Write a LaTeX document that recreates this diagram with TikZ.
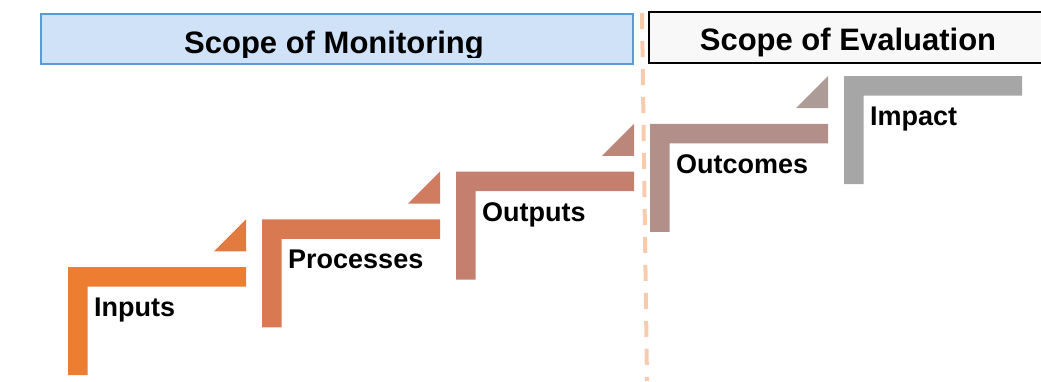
\documentclass[tikz,border=0pt]{standalone}
\usepackage{fontspec}
\setmainfont{Liberation Sans}
\definecolor{cIn}{HTML}{ED7D31}
\definecolor{cProc}{HTML}{D97951}
\definecolor{cOut}{HTML}{C47F6F}
\definecolor{cOutc}{HTML}{B28F88}
\definecolor{cImp}{HTML}{A6A6A6}
\definecolor{monFill}{HTML}{CFE2F8}
\definecolor{monLine}{HTML}{5B9BD5}
\definecolor{evalFill}{HTML}{F8F8F8}
\definecolor{divider}{HTML}{F8CBAD}
\tikzset{
  titlebox/.style={line width=1.5pt},
  titletext/.style={font=\fontsize{31}{36}\selectfont\bfseries, inner sep=0pt, anchor=base},
  steplabel/.style={font=\fontsize{27}{32}\selectfont\bfseries, inner sep=0pt, anchor=base west},
}
\begin{document}
\begin{tikzpicture}[x=1pt,y=-1pt]
\useasboundingbox (0,0) rectangle (1041,381);
\clip (0,0) rectangle (1041,381);

% divider between the two scopes
\coordinate (divtop) at (642,13);
\coordinate (divbot) at (647,381);
\draw[divider, line width=4pt, dash pattern=on 16pt off 12pt] (divtop) -- (divbot);

% scope headers
\node[titlebox, draw=monLine, fill=monFill, minimum width=592pt, minimum height=50pt, inner sep=0pt, anchor=north west] (monbox) at (40,13) {};
\node[titlebox, draw=black, line width=2pt, fill=evalFill, minimum width=400pt, minimum height=51pt, inner sep=0pt, anchor=north west] (evalbox) at (648,11) {};
\begin{scope}
  \clip (40,13) rectangle (632,57.5);
  \node[titletext] (montitle) at (334,53) {Scope of Monitoring};
\end{scope}
\node[titletext] (evaltitle) at (848,50) {Scope of Evaluation};

% staircase of L-shaped steps with connecting wedges
\def\thick{19.5}
\foreach \i/\col/\txt in {0/cIn/Inputs, 1/cProc/Processes, 2/cOut/Outputs, 3/cOutc/Outcomes, 4/cImp/Impact}{
  \pgfmathsetmacro{\L}{68+194*\i}
  \pgfmathsetmacro{\T}{267-47.75*\i}
  \pgfmathsetmacro{\R}{\L+178}
  \pgfmathsetmacro{\B}{\T+108}
  \fill[\col] (\L,\B) -- (\L,\T) -- (\R,\T) -- (\R,\T+\thick) -- (\L+\thick,\T+\thick) -- (\L+\thick,\B) -- cycle;
  \node[steplabel] (lab\i) at (\L+26,\T+49.5) {\txt};
}
\foreach \i/\ca/\cb in {0/cIn/cProc, 1/cProc/cOut, 2/cOut/cOutc, 3/cOutc/cImp}{
  \pgfmathsetmacro{\R}{246+194*\i}
  \pgfmathsetmacro{\N}{267-47.75*(\i+1)}
  \fill[\ca!50!\cb] (\R,\N) -- (\R,\N+32) -- (\R-32,\N+32) -- cycle;
}
\end{tikzpicture}
\end{document}
